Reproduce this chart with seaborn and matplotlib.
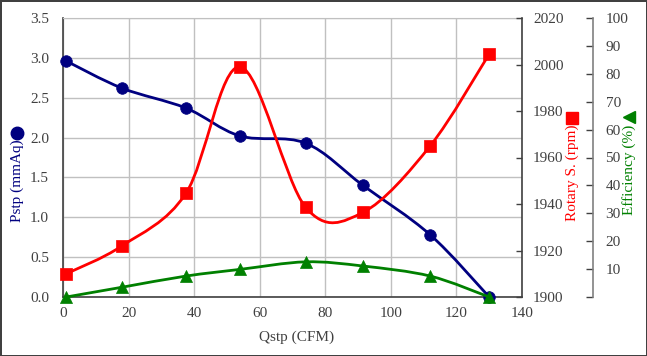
import numpy as np
import matplotlib
matplotlib.use("Agg")
import matplotlib.pyplot as plt
from matplotlib.path import Path
from matplotlib.patches import PathPatch
import seaborn as sns

# ---- data ----
qstp = [1, 18, 37.5, 54, 74, 91.5, 112, 130]
pstp = [2.96, 2.62, 2.37, 2.02, 1.93, 1.40, 0.78, 0.0]
rotary = [1910, 1922, 1944.6, 1999, 1938.6, 1936.4, 1965, 2004.5]
efficiency = [0, 3.5, 7.5, 9.9, 12.6, 11.1, 7.5, 0]

x_ticks = [0, 20, 40, 60, 80, 100, 120, 140]
p_ticks = [0.0, 0.5, 1.0, 1.5, 2.0, 2.5, 3.0, 3.5]
r_ticks = [1900, 1920, 1940, 1960, 1980, 2000, 2020]
e_ticks = [0, 10, 20, 30, 40, 50, 60, 70, 80, 90, 100]

sns.set_style("white")
plt.rcParams["font.family"] = ["Liberation Serif", "DejaVu Sans"]

W, H = 647, 356
fig = plt.figure(figsize=(W / 100, H / 100), dpi=100)
fig.patch.set_facecolor("white")
fig.patch.set_edgecolor("#404040")
fig.patch.set_linewidth(2)

L, R, T, B = 63, 522, 18, 297
ax = fig.add_axes([L / W, 1 - B / H, (R - L) / W, (B - T) / H])
ax2 = ax.twinx()
ax3 = ax.twinx()

BLUE = "#000080"
RED = "#ff0000"
GREEN = "#008000"
TXT = "#404040"


def smooth_path(xs, ys):
    pts = np.column_stack([xs, ys]).astype(float)
    n = len(pts)
    verts = [pts[0]]
    codes = [Path.MOVETO]
    for i in range(n - 1):
        p0 = pts[i - 1] if i > 0 else pts[i]
        p1 = pts[i]
        p2 = pts[i + 1]
        p3 = pts[i + 2] if i + 2 < n else pts[i + 1]
        c1 = p1 + (p2 - p0) / 6.0
        c2 = p2 - (p3 - p1) / 6.0
        verts += [c1, c2, p2]
        codes += [Path.CURVE4] * 3
    return Path(verts, codes)


def draw(a, xs, ys, color, marker, s):
    a.add_patch(PathPatch(smooth_path(xs, ys), facecolor="none",
                          edgecolor=color, lw=2.0, zorder=3, clip_on=False))
    sns.scatterplot(x=xs, y=ys, ax=a, marker=marker, s=s, color=color,
                    edgecolor=color, linewidth=0.5, zorder=4, clip_on=False,
                    legend=False)


draw(ax, qstp, pstp, BLUE, "o", 70)
draw(ax2, qstp, rotary, RED, "s", 70)
draw(ax3, qstp, efficiency, GREEN, "^", 75)

# primary axes
ax.set_xlim(0, 140)
ax.set_ylim(0, 3.5)
ax.set_xticks(x_ticks)
ax.set_yticks(p_ticks)
ax.set_yticklabels([f"{v:.1f}" for v in p_ticks])
ax.grid(True, color="#c0c0c0", lw=1)
ax.set_axisbelow(True)
ax.tick_params(axis="both", length=0, labelsize=11, labelcolor=TXT)
ax.tick_params(axis="x", pad=7)
ax.tick_params(axis="y", pad=10)
for sp in ["left", "bottom"]:
    ax.spines[sp].set_color(TXT)
    ax.spines[sp].set_linewidth(1.2)
ax.spines["top"].set_color("#c0c0c0")
ax.spines["right"].set_visible(False)
ax.set_xlabel("")
ax.set_ylabel("")

# rotary axis
ax2.set_ylim(1900, 2020)
ax2.set_yticks(r_ticks)
ax2.tick_params(axis="y", direction="in", length=4, width=1, color=TXT,
                labelsize=11, labelcolor=TXT, pad=8)
ax2.spines["right"].set_color(TXT)
ax2.spines["right"].set_linewidth(1.2)
for sp in ["left", "top", "bottom"]:
    ax2.spines[sp].set_visible(False)
ax2.set_ylabel("")

# efficiency axis
ax3.set_ylim(0, 100)
ax3.set_yticks(e_ticks)
ax3.set_yticklabels([""] + [str(v) for v in e_ticks[1:]])
ax3.spines["right"].set_position(("axes", (593 - L) / (R - L)))
ax3.spines["right"].set_color("#808080")
ax3.spines["right"].set_linewidth(1.2)
for sp in ["left", "top", "bottom"]:
    ax3.spines[sp].set_visible(False)
ax3.tick_params(axis="y", direction="in", length=5, width=1, color=TXT,
                labelsize=11, labelcolor=TXT, pad=9)
ax3.set_ylabel("")

# labels
fig.text(297 / W, 1 - 337 / H, "Qstp (CFM)", ha="center", va="center",
         fontsize=11, color=TXT)
fig.text(17 / W, 1 - 181 / H, "Pstp (mmAq)", rotation=90, ha="center",
         va="center", fontsize=11, color=BLUE)
fig.text(572 / W, 1 - 173 / H, "Rotary S. (rpm)", rotation=90, ha="center",
         va="center", fontsize=11, color=RED)
fig.text(629 / W, 1 - 170 / H, "Efficiency (%)", rotation=90, ha="center",
         va="center", fontsize=11, color=GREEN)

ax.plot([17 / W], [1 - 133 / H], marker="o", ms=9, color=BLUE,
        transform=fig.transFigure, clip_on=False)
ax.plot([572 / W], [1 - 118 / H], marker="s", ms=9, color=RED,
        transform=fig.transFigure, clip_on=False)
ax.plot([629 / W], [1 - 117 / H], marker="<", ms=9, color=GREEN,
        transform=fig.transFigure, clip_on=False)

fig.savefig("out.png", dpi=100)
